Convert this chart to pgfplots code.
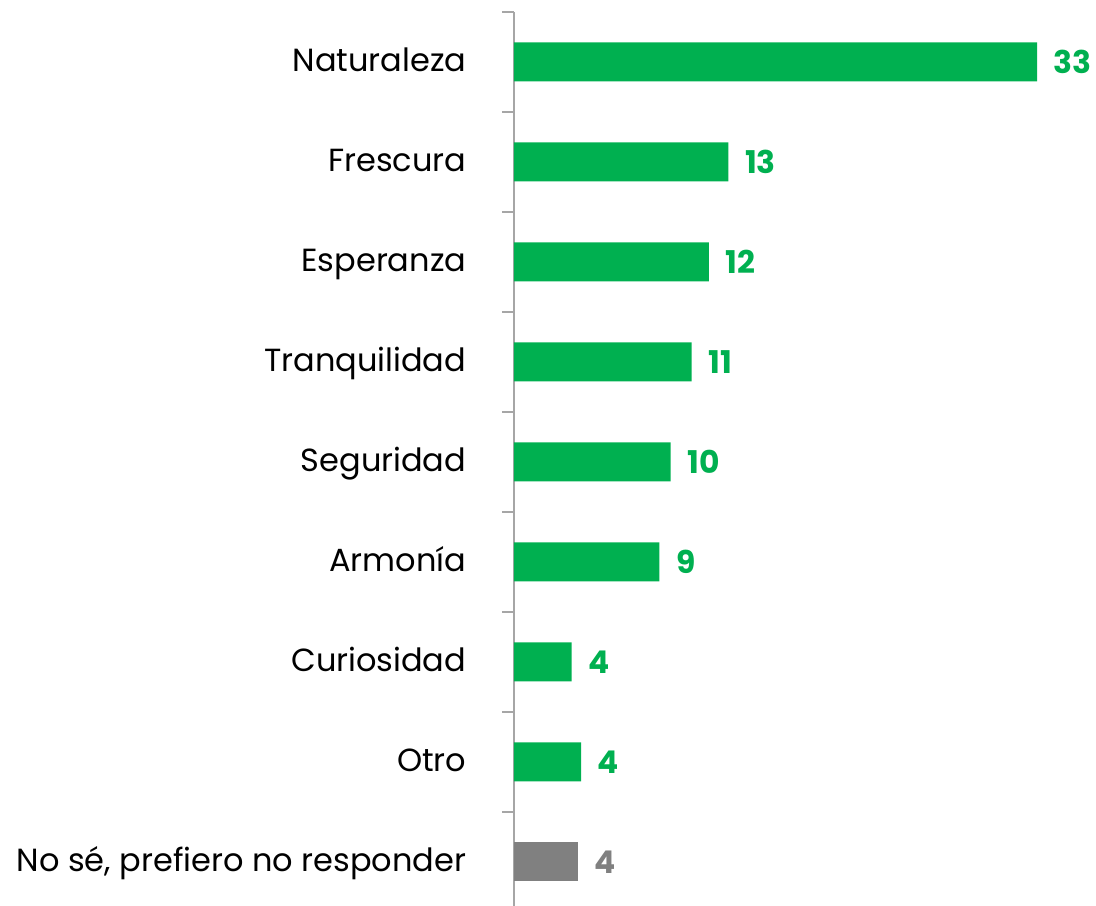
\documentclass[border=0pt]{standalone}
\usepackage{pgfplots}
\pgfplotsset{compat=1.18}
\usepackage{fontspec}
\setmainfont{Poppins}
\definecolor{vg}{HTML}{00B050}
\definecolor{gr}{HTML}{808080}
\definecolor{ax}{HTML}{A6A6A6}
\begin{document}
\begin{tikzpicture}
\begin{axis}[
  at={(0,0)}, anchor=south west,
  scale only axis, width=427.95pt, height=675pt,
  xmin=0, xmax=36, ymin=-0.5, ymax=8.5,
  xbar, bar width=29.25pt, bar shift=0pt,
  axis x line=none, axis y line*=left,
  ytick={0,1,2,3,4,5,6,7,8},
  yticklabels={{No sé, prefiero no responder},Otro,Curiosidad,Armonía,Seguridad,Tranquilidad,Esperanza,Frescura,Naturaleza},
  major tick length=0pt,
  minor ytick={-0.5,0.5,1.5,2.5,3.5,4.5,5.5,6.5,7.5,8.5},
  minor tick length=9pt, tick align=outside,
  y axis line style={ax, line width=1.2pt},
  every tick/.style={ax, line width=1.2pt},
  yticklabel style={font=\fontsize{24}{28}\selectfont, inner sep=0pt, anchor=base east, xshift=-35.6pt, yshift=-6.9pt},
  clip=false,
  nodes near coords, point meta=explicit symbolic,
  nodes near coords style={font=\fontsize{23.5}{28}\selectfont\bfseries, anchor=west, inner sep=0pt, xshift=12.5pt},
]
\addplot[fill=vg, draw=none, nodes near coords style={text=vg}] coordinates {
  (33.0,8) [33]
  (13.52,7) [13]
  (12.30,6) [12]
  (11.21,5) [11]
  (9.89,4) [10]
  (9.17,3) [9]
  (3.64,2) [4]
  (4.23,1) [4]
};
\addplot[fill=gr, draw=none, nodes near coords style={text=gr}] coordinates {
  (4.04,0) [4]
};
\end{axis}
\pgfresetboundingbox
\path (-385.5pt,4.5pt) rectangle (436.5pt,684pt);
\end{tikzpicture}
\end{document}
